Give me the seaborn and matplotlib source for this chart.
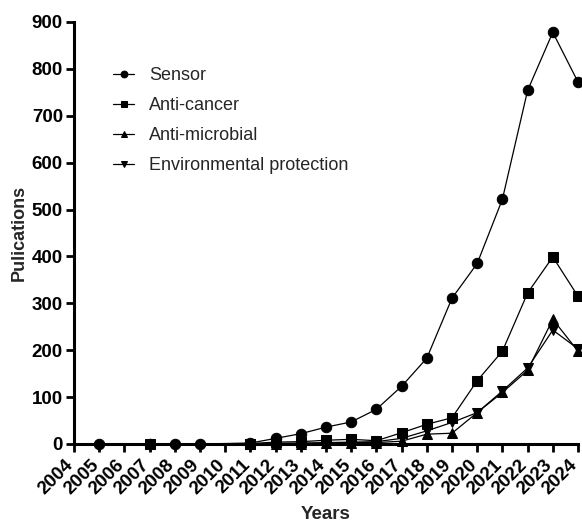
import numpy as np
import pandas as pd
import matplotlib
matplotlib.use("Agg")
import matplotlib.pyplot as plt
import matplotlib.transforms as mtransforms
import seaborn as sns

# Publication counts per research area
sensor_years = [2005, 2007, 2008, 2009, 2011, 2012, 2013, 2014, 2015, 2016,
                2017, 2018, 2019, 2020, 2021, 2022, 2023, 2024]
sensor = [0, 0, 0, 0, 2, 12, 22, 36, 47, 74, 123, 183, 311, 385, 522, 754, 878, 772]

cancer_years = [2007, 2011, 2012, 2013, 2014, 2015, 2016, 2017, 2018, 2019,
                2020, 2021, 2022, 2023, 2024]
anti_cancer = [0, 1, 4, 5, 8, 10, 7, 24, 42, 56, 135, 198, 322, 399, 315]

later_years = [2011, 2012, 2013, 2014, 2015, 2016, 2017, 2018, 2019, 2020,
               2021, 2022, 2023, 2024]
anti_microbial = [0, 1, 1, 2, 3, 3, 6, 21, 23, 67, 110, 157, 266, 198]
environmental = [0, 1, 2, 3, 4, 5, 12, 28, 46, 67, 113, 162, 243, 203]

series_names = ["Sensor", "Anti-cancer", "Anti-microbial", "Environmental protection"]
series_markers = ["o", "s", "^", "v"]
tick_years = list(range(2004, 2025))

frames = []
for name, yrs, vals in zip(series_names,
                           [sensor_years, cancer_years, later_years, later_years],
                           [sensor, anti_cancer, anti_microbial, environmental]):
    frames.append(pd.DataFrame({"Year": yrs, "Publications": vals, "Area": name}))
df = pd.concat(frames, ignore_index=True)

sns.set_style("ticks")
plt.rcParams["font.family"] = ["Liberation Sans", "DejaVu Sans"]

fig = plt.figure(figsize=(5.82, 5.25), dpi=100)
ax = fig.add_axes([74 / 582, 1 - 444 / 525, 504 / 582, 422 / 525])

sns.lineplot(data=df, x="Year", y="Publications", hue="Area", style="Area",
             hue_order=series_names, style_order=series_names,
             palette=["black"] * 4, markers=dict(zip(series_names, series_markers)),
             dashes=False, markersize=7.5, linewidth=0.9,
             markeredgecolor="black", ax=ax, clip_on=False, zorder=3)

ax.set_xlim(2004, 2024)
ax.set_ylim(0, 900)
ax.set_xticks(tick_years)
ax.set_yticks(range(0, 901, 100))
ax.tick_params(axis="both", direction="out", length=6, width=2, pad=2, colors="black")
ax.tick_params(axis="x", pad=7)
ax.set_xticklabels([str(y) for y in tick_years], rotation=45, ha="right", va="center",
                   rotation_mode="anchor", fontweight="bold", fontsize=13.5)
ax.set_yticklabels([str(v) for v in range(0, 901, 100)], fontweight="bold", fontsize=13.5)

# nudge the rotated year labels a little to the left so the last one fits
shift = mtransforms.ScaledTranslation(-3 / 100, 0, fig.dpi_scale_trans)
for tick in ax.xaxis.get_major_ticks():
    tick.label1.set_transform(tick.label1.get_transform() + shift)

for side in ["top", "right"]:
    ax.spines[side].set_visible(False)
for side in ["left", "bottom"]:
    ax.spines[side].set_linewidth(2.2)
    ax.spines[side].set_color("black")

ax.set_xlabel("Years", fontweight="bold", fontsize=13.5, labelpad=6)
ax.set_ylabel("Pulications", fontweight="bold", fontsize=13, labelpad=3)

handles, labels = ax.get_legend_handles_labels()
leg = ax.legend(handles, labels, loc="upper left", bbox_to_anchor=(0.077, 0.893),
                frameon=False, fontsize=13, handlelength=1.2, handletextpad=0.8,
                labelspacing=0.72, markerscale=0.65, borderaxespad=0, borderpad=0)

fig.savefig("out.png", dpi=100)
